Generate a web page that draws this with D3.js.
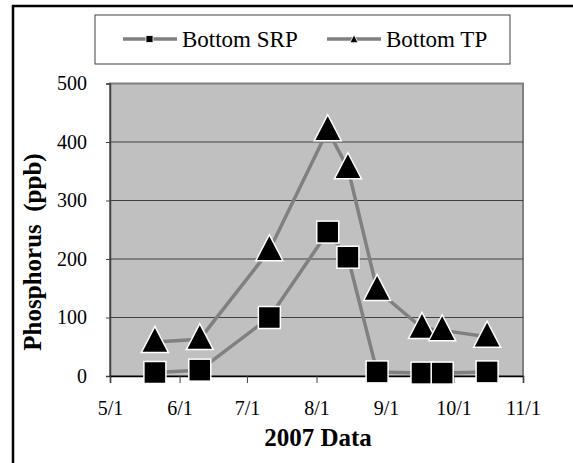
<!DOCTYPE html>
<html>
<head>
<meta charset="utf-8">
<script src="https://cdn.jsdelivr.net/npm/d3@7"></script>
<style>
  body { margin: 0; background: #fff; }
  svg text { font-family: "Liberation Serif", "Times New Roman", Times, serif; }
</style>
</head>
<body>
<svg width="573" height="463"></svg>
<script>
// sampling dates and values
var dates = ["2007-05-21", "2007-06-10", "2007-07-11", "2007-08-06", "2007-08-15",
             "2007-08-28", "2007-09-17", "2007-09-26", "2007-10-16"];
var srp = [6, 10, 100, 246, 203, 7, 5, 5, 7];
var tp = [58, 63, 215, 420, 355, 147, 82, 78, 67];
var xTicks = ["2007-05-01", "2007-06-01", "2007-07-01", "2007-08-01", "2007-09-01", "2007-10-01", "2007-11-01"];
var yTicks = [0, 100, 200, 300, 400, 500];
var seriesNames = ["Bottom SRP", "Bottom TP"];

var parse = d3.timeParse("%Y-%m-%d");
var svg = d3.select("svg");
var serif = "'Liberation Serif', 'Times New Roman', Times, serif";

// plot area box (note: "top" is taken by window.top)
var pLeft = 110, pRight = 523, pTop = 83.5, pBottom = 376;

var x = d3.scaleTime()
    .domain([parse(xTicks[0]), parse(xTicks[xTicks.length - 1])])
    .range([pLeft, pRight]);
var y = d3.scaleLinear().domain([0, 500]).range([pBottom, pTop]);

// outer frame (runs off the right / bottom edge)
svg.append("rect")
    .attr("x", 13).attr("y", 6)
    .attr("width", 600).attr("height", 500)
    .attr("fill", "none").attr("stroke", "#000").attr("stroke-width", 2.5);

// plot area
svg.append("rect")
    .attr("x", pLeft).attr("y", pTop)
    .attr("width", pRight - pLeft).attr("height", pBottom - pTop)
    .attr("fill", "#c0c0c0")
    .attr("stroke", "#808080").attr("stroke-width", 2);

// gridlines
svg.append("g").selectAll("line")
    .data(yTicks.slice(1, -1))
  .enter().append("line")
    .attr("x1", pLeft).attr("x2", pRight)
    .attr("y1", function(d) { return y(d); })
    .attr("y2", function(d) { return y(d); })
    .attr("stroke", "#404040").attr("stroke-width", 1);

// y axis
var yAxis = svg.append("g")
    .attr("transform", "translate(" + pLeft + ",0)")
    .call(d3.axisLeft(y).tickValues(yTicks).tickSize(4).tickPadding(19));
yAxis.select(".domain").attr("stroke", "#404040").attr("stroke-width", 1.5);
yAxis.selectAll(".tick line").attr("stroke", "#404040");
yAxis.selectAll("text")
    .attr("font-family", serif).attr("font-size", 20).attr("fill", "#000");

// x axis
var xAxis = svg.append("g")
    .attr("transform", "translate(0," + pBottom + ")")
    .call(d3.axisBottom(x)
        .tickValues(xTicks.map(parse))
        .tickFormat(d3.timeFormat("%-m/%-d"))
        .tickSize(7).tickPadding(18));
xAxis.select(".domain").attr("stroke", "#000").attr("stroke-width", 1.5);
xAxis.selectAll(".tick line").attr("stroke", "#404040");
xAxis.selectAll("text")
    .attr("font-family", serif).attr("font-size", 20).attr("fill", "#000");

// axis titles
svg.append("text")
    .attr("x", 318).attr("y", 446)
    .attr("text-anchor", "middle")
    .attr("font-family", serif)
    .attr("font-size", 25).attr("font-weight", "bold")
    .text("2007 Data");

svg.append("text")
    .attr("transform", "translate(41,252) rotate(-90)")
    .attr("text-anchor", "middle")
    .attr("font-family", serif)
    .attr("font-size", 25).attr("font-weight", "bold")
    .attr("xml:space", "preserve")
    .text("Phosphorus  (ppb)");

// series
var line = d3.line()
    .x(function(d, i) { return x(parse(dates[i])); })
    .y(function(d) { return y(d); });

[srp, tp].forEach(function(vals) {
    svg.append("path")
        .datum(vals)
        .attr("d", line)
        .attr("fill", "none")
        .attr("stroke", "#808080")
        .attr("stroke-width", 3.5)
        .attr("stroke-linejoin", "round");
});

var sq = 22;
svg.append("g").selectAll("rect")
    .data(srp)
  .enter().append("rect")
    .attr("x", function(d, i) { return x(parse(dates[i])) - sq / 2; })
    .attr("y", function(d) { return y(d) - sq / 2; })
    .attr("width", sq).attr("height", sq)
    .attr("fill", "#000").attr("stroke", "#fff").attr("stroke-width", 1.5);

function triangle(cx, cy, w, h) {
    return "M" + cx + "," + (cy - h * 0.6) +
           "L" + (cx + w / 2) + "," + (cy + h * 0.4) +
           "L" + (cx - w / 2) + "," + (cy + h * 0.4) + "Z";
}

svg.append("g").selectAll("path")
    .data(tp)
  .enter().append("path")
    .attr("d", function(d, i) { return triangle(x(parse(dates[i])), y(d), 27, 26); })
    .attr("fill", "#000").attr("stroke", "#fff").attr("stroke-width", 1.5);

// legend
var legend = svg.append("g");
legend.append("rect")
    .attr("x", 95).attr("y", 15)
    .attr("width", 415).attr("height", 49)
    .attr("fill", "#fff").attr("stroke", "#404040").attr("stroke-width", 1);

var legX = [123, 327];
seriesNames.forEach(function(name, i) {
    var lx = legX[i];
    legend.append("line")
        .attr("x1", lx).attr("x2", lx + 54)
        .attr("y1", 39).attr("y2", 39)
        .attr("stroke", "#808080").attr("stroke-width", 3.5);
    if (i === 0) {
        legend.append("rect")
            .attr("x", lx + 23).attr("y", 35.5)
            .attr("width", 7).attr("height", 7)
            .attr("fill", "#000").attr("stroke", "#fff").attr("stroke-width", 0.8);
    } else {
        legend.append("path")
            .attr("d", triangle(lx + 27, 39.5, 8, 8))
            .attr("fill", "#000").attr("stroke", "#fff").attr("stroke-width", 0.8);
    }
    legend.append("text")
        .attr("x", lx + 59).attr("y", 47)
        .attr("font-family", serif)
        .attr("font-size", 23)
        .text(name);
});
</script>
</body>
</html>
